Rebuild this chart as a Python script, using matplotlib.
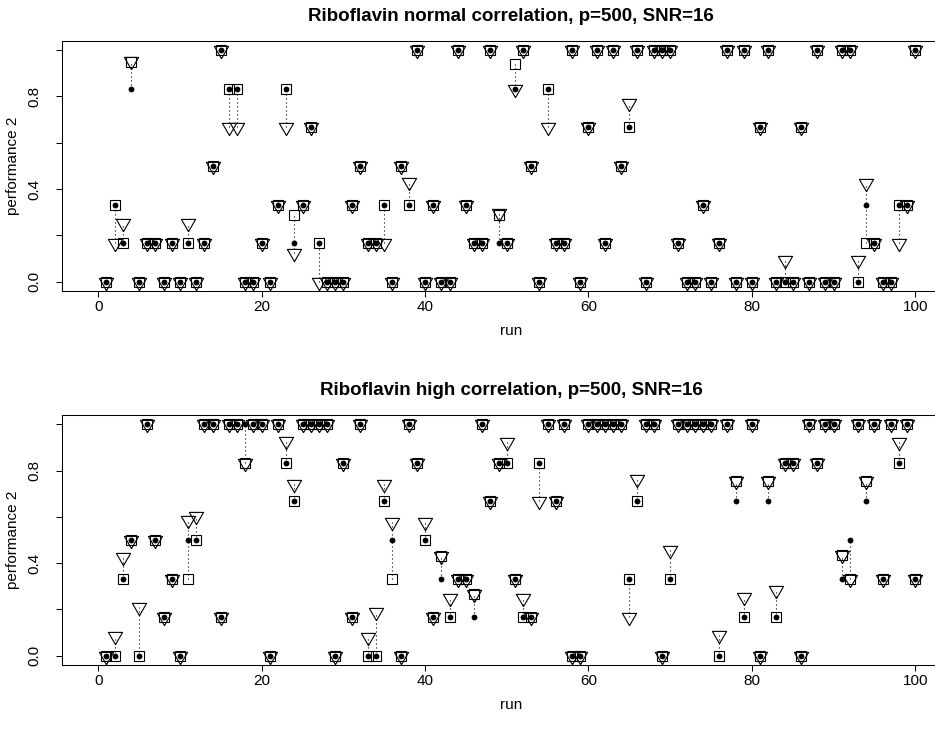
import matplotlib
matplotlib.use("Agg")
import matplotlib.pyplot as plt
import numpy as np

plt.rcParams["font.family"] = ["Liberation Sans", "DejaVu Sans"]

runs = np.arange(1, 101)

# normal correlation: square, dot and triangle scores per run
normal_sq = [0, .333, .167, .95, 0, .167, .167, 0, .167, 0,
             .167, 0, .167, .5, 1, .833, .833, 0, 0, .167,
             0, .333, .833, .29, .333, .667, .167, 0, 0, 0,
             .333, .5, .167, .167, .333, 0, .5, .333, 1, 0,
             .333, 0, 0, 1, .333, .167, .167, 1, .29, .167,
             .94, 1, .5, 0, .833, .167, .167, 1, 0, .667,
             1, .167, 1, .5, .667, 1, 0, 1, 1, 1,
             .167, 0, 0, .333, 0, .167, 1, 0, 1, 0,
             .667, 1, 0, 0, 0, .667, 0, 1, 0, 0,
             1, 1, 0, .167, .167, 0, 0, .333, .333, 1]
normal_dot = [0, .333, .167, .833, 0, .167, .167, 0, .167, 0,
              .167, 0, .167, .5, 1, .833, .833, 0, 0, .167,
              0, .333, .833, .167, .333, .667, .167, 0, 0, 0,
              .333, .5, .167, .167, .333, 0, .5, .333, 1, 0,
              .333, 0, 0, 1, .333, .167, .167, 1, .167, .167,
              .833, 1, .5, 0, .833, .167, .167, 1, 0, .667,
              1, .167, 1, .5, .667, 1, 0, 1, 1, 1,
              .167, 0, 0, .333, 0, .167, 1, 0, 1, 0,
              .667, 1, 0, 0, 0, .667, 0, 1, 0, 0,
              1, 1, 0, .333, .167, 0, 0, .333, .333, 1]
normal_tri = [0, .167, .255, .954, 0, .167, .167, 0, .167, 0,
              .255, 0, .167, .5, 1, .667, .667, 0, 0, .167,
              0, .333, .667, .122, .333, .667, 0, 0, 0, 0,
              .333, .5, .167, .167, .167, 0, .5, .432, 1, 0,
              .333, 0, 0, 1, .333, .167, .167, 1, .295, .167,
              .833, 1, .5, 0, .667, .167, .167, 1, 0, .667,
              1, .167, 1, .5, .773, 1, 0, 1, 1, 1,
              .167, 0, 0, .333, 0, .167, 1, 0, 1, 0,
              .667, 1, 0, .094, 0, .667, 0, 1, 0, 0,
              1, 1, .094, .424, .167, 0, 0, .167, .333, 1]

# high correlation
high_sq = [0, 0, .333, .5, 0, 1, .5, .167, .333, 0,
           .333, .5, 1, 1, .167, 1, 1, .833, 1, 1,
           0, 1, .833, .667, 1, 1, 1, 1, 0, .833,
           .167, 1, 0, 0, .667, .333, 0, 1, .833, .5,
           .167, .43, .167, .333, .333, .266, 1, .667, .833, .833,
           .333, .167, .167, .833, 1, .667, 1, 0, 0, 1,
           1, 1, 1, 1, .333, .667, 1, 1, 0, .333,
           1, 1, 1, 1, 1, 0, 1, .757, .167, 1,
           0, .757, .167, .833, .833, 0, 1, .833, 1, 1,
           .434, .333, 1, .757, 1, .333, 1, .833, 1, .333]
high_dot = [0, 0, .333, .5, 0, 1, .5, .167, .333, 0,
            .5, .5, 1, 1, .167, 1, 1, 1, 1, 1,
            0, 1, .833, .667, 1, 1, 1, 1, 0, .833,
            .167, 1, 0, 0, .667, .5, 0, 1, .833, .5,
            .167, .333, .167, .333, .333, .167, 1, .667, .833, .833,
            .333, .167, .167, .833, 1, .667, 1, 0, 0, 1,
            1, 1, 1, 1, .333, .667, 1, 1, 0, .333,
            1, 1, 1, 1, 1, 0, 1, .667, .167, 1,
            0, .667, .167, .833, .833, 0, 1, .833, 1, 1,
            .333, .5, 1, .667, 1, .333, 1, .833, 1, .333]
high_tri = [0, .086, .427, .5, .211, 1, .5, .167, .333, 0,
            .585, .603, 1, 1, .167, 1, 1, .833, 1, 1,
            0, 1, .93, .743, 1, 1, 1, 1, 0, .833,
            .167, 1, .082, .19, .743, .58, 0, 1, .833, .58,
            .167, .43, .25, .333, .333, .266, 1, .667, .833, .925,
            .333, .25, .167, .667, 1, .667, 1, 0, 0, 1,
            1, 1, 1, 1, .167, .764, 1, 1, 0, .455,
            1, 1, 1, 1, 1, .089, 1, .757, .254, 1,
            0, .757, .283, .833, .833, 0, 1, .833, 1, 1,
            .434, .333, 1, .757, 1, .333, 1, .922, 1, .333]

titles = ["Riboflavin normal correlation, p=500, SNR=16",
          "Riboflavin high correlation, p=500, SNR=16"]

# open inverted triangle, equilateral, centred on its centroid
tri_marker = [(0, -1), (-0.866, 0.5), (0.866, 0.5), (0, -1)]


def draw_panel(ax, sq, dot, tri, title):
    sq, dot, tri = np.array(sq), np.array(dot), np.array(tri)
    lo = np.minimum(np.minimum(sq, dot), tri)
    hi = np.maximum(np.maximum(sq, dot), tri)
    gap = hi > lo
    ax.vlines(runs[gap], lo[gap], hi[gap], colors="black",
              linestyles=(0, (1, 2.6)), linewidth=0.8)
    ax.plot(runs, sq, ls="none", marker="s", ms=6.6, mfc="none",
            mec="black", mew=0.8)
    ax.plot(runs, dot, ls="none", marker="o", ms=4.2, mfc="black",
            mec="black", mew=0)
    ax.plot(runs, tri, ls="none", marker=tri_marker, ms=11.8, mfc="none",
            mec="black", mew=0.8)

    ax.set_xlim(-4.44, 103.96)
    ax.set_ylim(-0.04, 1.04)
    ax.set_xticks([0, 20, 40, 60, 80, 100])
    ax.set_yticks([0, 0.2, 0.4, 0.6, 0.8, 1.0])
    ax.set_yticklabels(["0.0", "", "0.4", "", "0.8", ""], rotation=90,
                       va="center")
    ax.tick_params(direction="out", length=4.5, width=0.75, labelsize=11)
    ax.tick_params(axis="x", pad=2)
    ax.tick_params(axis="y", pad=10)
    for s in ax.spines.values():
        s.set_linewidth(0.75)
    ax.set_xlabel("run", fontsize=11, labelpad=7)
    ax.set_ylabel("performance 2", fontsize=11, labelpad=6)
    ax.set_title(title, fontsize=13.5, fontweight="bold", pad=14.5)
    # centre title and x label over the data range 1..100
    ax.title.set_x(0.507)
    ax.xaxis.label.set_x(0.507)


fig = plt.figure(figsize=(9.35, 7.3), dpi=100)
# plot regions run on past the right edge of the image
ax1 = fig.add_axes([0.0663, 0.6014, 0.9472, 0.3428])
ax2 = fig.add_axes([0.0663, 0.0890, 0.9472, 0.3424])

draw_panel(ax1, normal_sq, normal_dot, normal_tri, titles[0])
draw_panel(ax2, high_sq, high_dot, high_tri, titles[1])

fig.savefig("out.png", dpi=100)
